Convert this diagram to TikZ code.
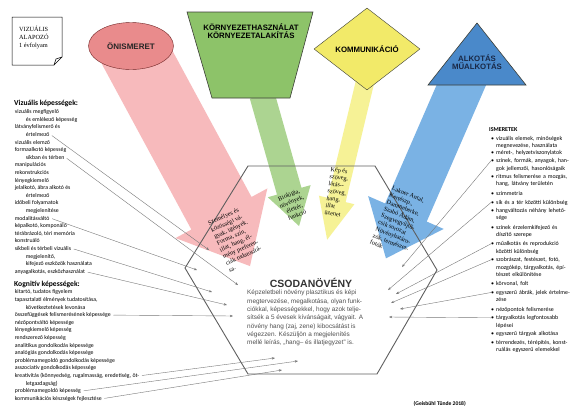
\documentclass[tikz,border=0pt]{standalone}
\usepackage{fontspec}
\setmainfont{Carlito}
\newfontfamily\arialf{Liberation Sans}
\newfontfamily\timesf{Liberation Serif}
\usepackage{tikz}
\usetikzlibrary{
  arrows.meta,
  positioning,
  shapes.arrows,
  shapes.geometric
}
\definecolor{selfred}{RGB}{233,139,140}
\definecolor{selfline}{RGB}{110,35,35}
\definecolor{selfarrow}{RGB}{247,186,188}
\definecolor{envgreen}{RGB}{141,195,105}
\definecolor{envarrow}{RGB}{172,212,145}
\definecolor{comyellow}{RGB}{242,234,105}
\definecolor{comarrow}{RGB}{246,242,150}
\definecolor{artblue}{RGB}{74,137,202}
\definecolor{artarrow}{RGB}{122,178,228}
\definecolor{artnavy}{RGB}{25,40,70}
\definecolor{shapeline}{RGB}{60,62,55}
\definecolor{hexgray}{RGB}{95,95,95}
\definecolor{textgray}{RGB}{80,80,80}
\definecolor{linkgray}{RGB}{120,120,120}
\tikzset{
  flowarrow/.style={single arrow,draw=none,inner xsep=0pt,anchor=tail},
  topcaps/.style={font=\arialf\bfseries\fontsize{7.8}{8.6}\selectfont,
    align=center,inner sep=0pt},
  arrtext/.style={font=\timesf\fontsize{6.2}{7.3}\selectfont,align=left,
    inner sep=0pt},
  lst/.style={font=\fontsize{5.8}{7.6}\selectfont,inner sep=0.6pt,
    anchor=base west},
  lsthead/.style={font=\bfseries\fontsize{7.6}{9}\selectfont,inner sep=0pt,
    anchor=base west},
  ismitem/.style={font=\fontsize{5.9}{7.2}\selectfont,inner sep=0pt,
    anchor=base west,text width=88pt,align=left},
  conn/.style={-{Stealth[length=3.2pt,width=2.4pt]},draw=linkgray,
    line width=0.4pt}
}
\newcommand{\rbul}{\makebox[5pt][l]{\textbullet}}
\newcommand{\rind}{\hspace*{5pt}}

\begin{document}
\begin{tikzpicture}[x=1pt,y=-1pt]
  \path[use as bounding box,fill=white] (0,0) rectangle (584,413);
  % block arrows from the four areas
  \node[flowarrow,fill=selfarrow,minimum height=250pt,inner ysep=34pt,
    single arrow head extend=18pt,single arrow tip angle=82,rotate=-61.6]
    (selfarr) at (131,46) {};
  \node[flowarrow,fill=envarrow,minimum height=136pt,inner ysep=12.5pt,
    single arrow head extend=9.5pt,single arrow tip angle=63,rotate=-74.2]
    (envarr) at (262,95) {};
  \node[flowarrow,fill=comarrow,minimum height=162pt,inner ysep=9pt,
    single arrow head extend=9pt,single arrow tip angle=48,rotate=-103.5]
    (comarr) at (365,82) {};
  \node[flowarrow,fill=artarrow,minimum height=203pt,inner ysep=22.5pt,
    single arrow head extend=18.5pt,single arrow tip angle=79,rotate=-113.5]
    (artarr) at (467,72) {};
  % hexagon
  \draw[hexgray,line width=0.9pt] (248,166) -- (375,166) -- (437,270)
    -- (377,374) -- (248,374) -- (185,268) -- cycle;
  % the four areas
  \node[ellipse,draw=selfline,fill=selfred,minimum width=85pt,
    minimum height=47pt,inner sep=0pt,text=black!85,
    font=\arialf\bfseries\fontsize{8}{9}\selectfont] (self) at (131,46) {ÖNISMERET};
  \draw[shapeline,fill=envgreen,line width=0.6pt]
    (187,12) -- (313,12) -- (290,98) -- (212,98) -- cycle;
  \node[topcaps] (env) at (251,31) {KÖRNYEZETHASZNÁLAT\\KÖRNYEZETALAKÍTÁS};
  \node[diamond,draw=shapeline,fill=comyellow,aspect=1.3,minimum width=106pt,
    minimum height=82pt,topcaps] (com) at (367,49) {KOMMUNIKÁCIÓ};
  \draw[shapeline,fill=artblue,line width=0.6pt]
    (477,23) -- (526,85) -- (428,85) -- cycle;
  \node[topcaps,text=artnavy] (art) at (477,62) {ALKOTÁS\\MŰALKOTÁS};
  % grade card
  \draw[line width=0.5pt,fill=white] (12,17) -- (62,17) -- (62,57) -- (54,65)
    -- (12,65) -- cycle;
  \draw[line width=0.5pt] (54,65) -- (56,59) -- (62,57);
  \node[font=\timesf\fontsize{6.3}{8}\selectfont,align=left,anchor=north west,
    inner sep=0pt] (grade) at (19,25.5) {VIZUÁLIS\\ALAPOZÓ\\1 évfolyam};
  % texts on the arrows
  \node[arrtext,rotate=24] (selftxt) at (236,239) {Személyes és\\közösségi vá-\\
    gyak, igények.\\Forma, szín,\\illat, hang, él-\\mény preferen-\\
    ciák tudatosítá-\\sa.};
  \node[arrtext,align=center,rotate=22] (envtxt) at (293,205)
    {Biológia,\\növények,\\élettér,\\funkció};
  \node[arrtext,rotate=-8] (comtxt) at (337,192)
    {Kép és\\szöveg,\\látás--\\szöveg,\\hang,\\illat\\üzenet};
  \node[arrtext,rotate=-22] (arttxt) at (399,222) {Lakner Antal,\\Kertészp.,\\
    Dammeberke,\\Szabó Ádám,\\Szegvegyűjtő-\\csik sorozat\\Növényhatáro-\\
    zók, természet-\\fotók};
  % centre text
  \node[font=\arialf\bfseries\fontsize{10.5}{12}\selectfont,text=black!80,
    inner sep=0pt] (csoda) at (311,283) {CSODANÖVÉNY};
  \node[font=\arialf\fontsize{6.4}{8.3}\selectfont,text=textgray,align=left,
    anchor=north west,inner sep=0pt] (leiras) at (247,290)
    {Képzeletbeli növény plasztikus és képi\\
     megtervezése, megalkotása, olyan funk-\\
     ciókkal, képességekkel, hogy azok telje-\\
     sítsék a 5 évesek kívánságait, vágyait. A\\
     növény hang (zaj, zene) kibocsátást is\\
     végezzen. Készüljön a megjelenítés\\
     mellé leírás, „hang– és illatjegyzet” is.};
  % left lists
  \node[lsthead] (vizhead) at (14,105) {Vizuális képességek:};
  \foreach \t/\dx [count=\i] in {%
    {vizuális megfigyelő}/0,{és emlékező képesség}/11,{látványfelismerő és}/0,
    {értelmező}/11,{vizuális elemző}/0,{formaalkotó képesség}/0,
    {síkban és térben}/11,manipulációs/0,rekonstrukciós/0,lényegkiemelő/0,
    {jelalkotó, ábra alkotó és}/0,{értelmező}/11,{időbeli folyamatok}/0,
    {megjelenítése}/11,modalitásváltó/0,{képalkotó, komponáló}/0,
    {térábrázoló, téri memória}/0,konstruáló/0,{síkbeli és térbeli vizuális}/0,
    {megjelenítő,}/11,{kifejező eszközök használata}/11,
    {anyagalkotás, eszközhasználat}/0}
    \node[lst] (l\i) at (14+\dx,106+7.6*\i) {\t};
  \node[lsthead] (koghead) at (14,286) {Kognitív képességek:};
  \foreach \t/\dx [count=\i] in {%
    {kitartó, tudatos figyelem}/0,{tapasztalati élmények tudatosítása,}/0,
    {következtetések levonása}/11,{összefüggések felismerésének képessége}/0,
    {nézőpontváltó képessége}/0,{lényegkiemelő képesség}/0,
    {rendszerező képesség}/0,{analitikus gondolkodás képessége}/0,
    {analógiás gondolkodás képessége}/0,
    {problémamegoldó gondolkodás képessége}/0,
    {asszociatív gondolkodás képessége}/0,
    {kreativitás (könnyedség, rugalmasság, eredetiség, öt-}/0,
    {letgazdagság)}/11,{problémamegoldó képesség}/0,
    {kommunikációs készségek fejlesztése}/0}
    \node[lst] (k\i) at (14+\dx,286.2+7.6*\i) {\t};
  % right list
  \node[lsthead,font=\bfseries\fontsize{6}{7}\selectfont] (ism) at (489,131) {ISMERETEK};
  \foreach \y/\t [count=\i] in {%
    140.1/{\rbul vizuális elemek, minőségek\\\rind megnevezése, használata},
    154.5/{\rbul méret-, helyzetviszonylatok},
    162.8/{\rbul színek, formák, anyagok, han-\\\rind gok jellemzői, hasonlóságaik},
    178.5/{\rbul ritmus felismerése a mozgás,\\\rind hang, látvány területén},
    195.1/{\rbul szimmetria},
    204.5/{\rbul sík és a tér közötti különbség},
    212.6/{\rbul hangváltozás néhány lehető-\\\rind sége},
    229.1/{\rbul színek érzelemkifejező és\\\rind díszítő szerepe},
    245.8/{\rbul műalkotás és reprodukció\\\rind közötti különbség},
    261.8/{\rbul szobrászat, festészet, fotó,\\\rind mozgókép, tárgyalkotás, épí-\\\rind tészet elkülönítése},
    285.8/{\rbul körvonal, folt},
    294.5/{\rbul egyszerű ábrák, jelek értelme-\\\rind zése},
    311.1/{\rbul nézőpontok felismerése},
    319.8/{\rbul tárgyalkotás legfontosabb\\\rind lépései},
    335.8/{\rbul egyszerű tárgyak alkotása},
    344.5/{\rbul térrendezés, térépítés, konst-\\\rind ruálás egyszerű elemekkel}}
    \node[ismitem] (r\i) at (491,\y) {\t};
  \node[font=\bfseries\fontsize{5.6}{6.5}\selectfont,inner sep=0pt,
    anchor=base east] (forras) at (466,405) {(Geisbühl Tünde 2018)};
  % connectors into the hexagon
  \coordinate (lt1) at (209,250);
  \coordinate (lt2) at (238,285);
  \coordinate (lt3) at (197,270);
  \coordinate (lt4) at (212,292);
  \coordinate (lt5) at (227,305);
  \coordinate (lt6) at (233,316);
  \coordinate (lt7) at (275,358);
  \coordinate (lt8) at (298,361);
  \coordinate (lt9) at (282,370);
  \coordinate (rt1) at (402,267);
  \coordinate (rt2) at (388,290);
  \coordinate (rt3) at (396,294);
  \coordinate (rt4) at (391,303);
  \coordinate (rt5) at (400,309);
  \coordinate (rt6) at (389,317);
  \draw[conn,shorten <=2pt] (l4.east) -- (lt1);
  \draw[conn,shorten <=2pt] (l7.east) -- (lt2);
  \draw[conn,shorten <=2pt] (l15.east) -- (lt3);
  \draw[conn,shorten <=2pt] (l19.east) -- (lt4);
  \draw[conn,shorten <=2pt] (l22.east) -- (lt5);
  \draw[conn,shorten <=2pt] (k4.east) -- (lt6);
  \draw[conn,shorten <=2pt] (k12.east) -- (lt7);
  \draw[conn,shorten <=2pt] (k14.east) -- (lt8);
  \draw[conn,shorten <=2pt] (k15.east) -- (lt9);
  \draw[conn] ([yshift=2pt]r3.base west) -- (rt1);
  \draw[conn] ([yshift=2pt]r6.base west) -- (rt2);
  \draw[conn] ([yshift=2pt]r9.base west) -- (rt3);
  \draw[conn] ([yshift=2pt]r10.base west) -- (rt4);
  \draw[conn] ([yshift=2pt]r12.base west) -- (rt5);
  \draw[conn] ([yshift=2pt]r14.base west) -- (rt6);
\end{tikzpicture}
\end{document}
